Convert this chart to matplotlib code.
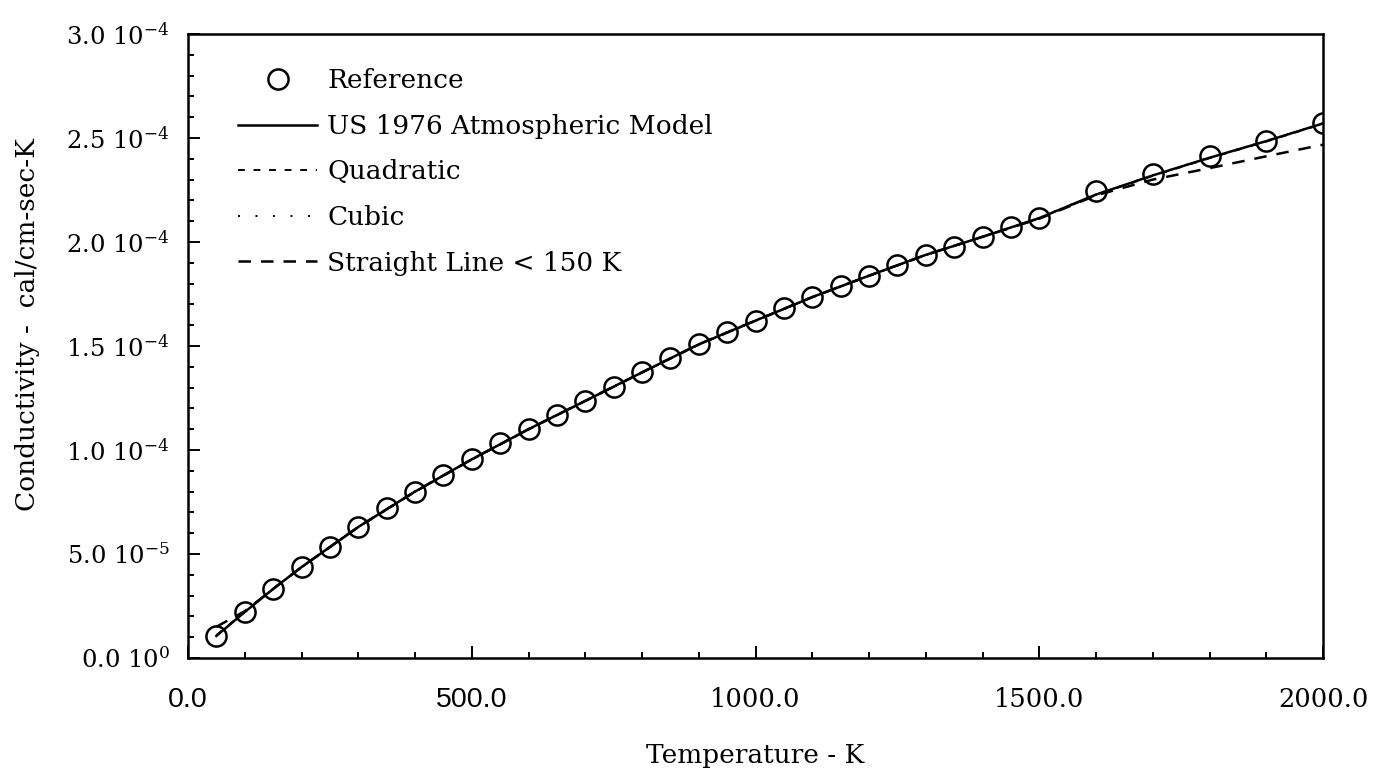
import numpy as np
import matplotlib
matplotlib.use("Agg")
import matplotlib.pyplot as plt
from matplotlib.ticker import MultipleLocator, FixedLocator

plt.rcParams['font.family'] = ['DejaVu Serif']
plt.rcParams['mathtext.fontset'] = 'dejavuserif'

# Reference points (T in K, conductivity in 1e-4 cal/cm-sec-K)
ref_temp = [50, 100, 150, 200, 250, 300, 350, 400, 450, 500,
            550, 600, 650, 700, 750, 800, 850, 900, 950, 1000,
            1050, 1100, 1150, 1200, 1250, 1300, 1350, 1400, 1450, 1500,
            1600, 1700, 1800, 1900, 2000]
ref_cond = [0.106, 0.221, 0.332, 0.437, 0.534, 0.630, 0.721, 0.798, 0.880, 0.957,
            1.034, 1.101, 1.168, 1.236, 1.303, 1.375, 1.442, 1.510, 1.567, 1.620,
            1.683, 1.736, 1.788, 1.837, 1.889, 1.938, 1.976, 2.024, 2.072, 2.115,
            2.245, 2.327, 2.413, 2.486, 2.572]

# fitted curves
line_temp = [50, 100, 150, 200, 300, 400, 500, 600, 700, 800, 900,
             1000, 1100, 1200, 1300, 1400, 1500, 1600, 1700, 1800, 1900, 2000]
us1976_cond = [0.106, 0.221, 0.332, 0.437, 0.630, 0.800, 0.955, 1.100, 1.236, 1.373, 1.508,
               1.622, 1.735, 1.838, 1.938, 2.025, 2.115, 2.228, 2.320, 2.405, 2.485, 2.570]
quad_cond = [0.110, 0.222, 0.332, 0.436, 0.628, 0.798, 0.953, 1.098, 1.235, 1.372, 1.506,
             1.621, 1.734, 1.837, 1.937, 2.024, 2.113, 2.226, 2.318, 2.403, 2.483, 2.568]
cubic_cond = [0.108, 0.221, 0.331, 0.437, 0.631, 0.801, 0.956, 1.101, 1.237, 1.374, 1.509,
              1.623, 1.736, 1.839, 1.939, 2.026, 2.116, 2.229, 2.321, 2.406, 2.486, 2.571]
straight_cond = [0.150, 0.225, 0.332, 0.437, 0.630, 0.800, 0.955, 1.100, 1.236, 1.373, 1.508,
                 1.622, 1.735, 1.838, 1.938, 2.025, 2.112, 2.224, 2.300, 2.355, 2.412, 2.468]

ytick_vals = [0.0, 0.5, 1.0, 1.5, 2.0, 2.5, 3.0]
ytick_text = ["0.0 10$^{0}$", "5.0 10$^{-5}$", "1.0 10$^{-4}$", "1.5 10$^{-4}$",
              "2.0 10$^{-4}$", "2.5 10$^{-4}$", "3.0 10$^{-4}$"]
xtick_vals = [0, 500, 1000, 1500, 2000]
xtick_text = ["0.0", "500.0", "1000.0", "1500.0", "2000.0"]

scale = 1e-4

fig = plt.figure(figsize=(13.76, 7.7), dpi=100)
ax = fig.add_axes([188/1376, 1 - 658/770, 1135/1376, 624/770])

ax.plot(ref_temp, np.array(ref_cond)*scale, 'o', ms=14.5, mfc='none', mec='black',
        mew=1.8, label='Reference', zorder=5)
ax.plot(line_temp, np.array(us1976_cond)*scale, '-', color='black', lw=1.8,
        label='US 1976 Atmospheric Model')
ax.plot(line_temp, np.array(quad_cond)*scale, color='black', lw=1.4,
        linestyle=(0, (3.5, 4.5)), label='Quadratic')
ax.plot(line_temp, np.array(cubic_cond)*scale, color='black', lw=1.4,
        linestyle=(0, (1, 8)), label='Cubic')
ax.plot(line_temp, np.array(straight_cond)*scale, color='black', lw=1.8,
        linestyle=(0, (5, 4)), label='Straight Line < 150 K')

ax.set_xlim(0, 2000)
ax.set_ylim(0, 3.0e-4)

ax.xaxis.set_major_locator(FixedLocator(xtick_vals))
ax.xaxis.set_minor_locator(MultipleLocator(100))
ax.yaxis.set_major_locator(FixedLocator([v*scale for v in ytick_vals]))
ax.yaxis.set_minor_locator(MultipleLocator(0.1e-4))
ax.set_xticklabels(xtick_text)
ax.set_yticklabels(ytick_text, fontsize=17.5)

for i, lbl in enumerate(ax.get_xticklabels()):
    if i < 2:
        lbl.set_fontfamily('Liberation Sans')
        lbl.set_fontsize(20.5)
    else:
        lbl.set_fontsize(18.5)

ax.tick_params(which='both', direction='in', top=False, right=False, width=1.4)
ax.tick_params(which='major', length=8.5)
ax.tick_params(which='minor', length=4.5)
ax.tick_params(axis='y', pad=13)
ax.tick_params(axis='x', pad=21)
for s in ax.spines.values():
    s.set_linewidth(1.8)

ax.set_xlabel('Temperature - K', fontsize=19)
ax.set_ylabel('Conductivity -  cal/cm-sec-K', fontsize=19)
ax.xaxis.set_label_coords(0.5, -0.136)
ax.yaxis.set_label_coords(-0.130, 0.535)

ax.legend(loc='upper left', bbox_to_anchor=(0.044, 0.945), frameon=False,
          fontsize=19, numpoints=1, handlelength=3.0, handletextpad=0.38,
          labelspacing=0.78, borderpad=0, borderaxespad=0)

fig.savefig('out.png', dpi=100)
